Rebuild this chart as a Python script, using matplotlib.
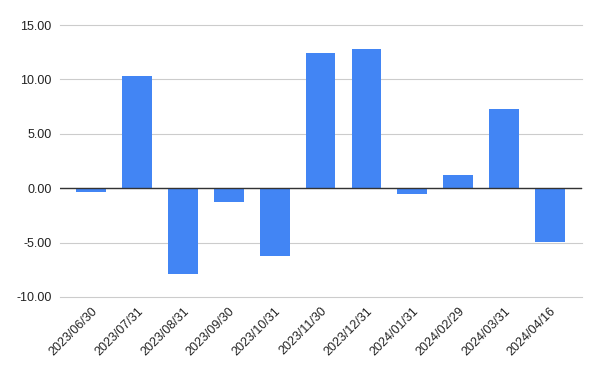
import matplotlib.pyplot as plt

dates = ["2023/06/30", "2023/07/31", "2023/08/31", "2023/09/30", "2023/10/31",
         "2023/11/30", "2023/12/31", "2024/01/31", "2024/02/29", "2024/03/31",
         "2024/04/16"]
values = [-0.35, 10.3, -7.9, -1.3, -6.2, 12.4, 12.8, -0.5, 1.2, 7.25, -4.95]
yticks = [-10, -5, 0, 5, 10, 15]

plt.rcParams["font.family"] = ["Liberation Sans", "DejaVu Sans"]

fig = plt.figure(figsize=(6, 3.71), dpi=100)
ax = fig.add_axes([0.1, 0.1995, 0.87, 0.733])

x = range(len(dates))
ax.bar(x, values, width=0.65, color="#4285F4", zorder=3)
ax.axhline(0, color="#333333", linewidth=1, zorder=4)

ax.set_ylim(-10, 15)
ax.set_xlim(-0.68, len(dates) - 0.3)
ax.set_yticks(yticks)
ax.set_yticklabels([f"{v:.2f}" for v in yticks])
ax.yaxis.grid(True, color="#cccccc", linewidth=0.8, zorder=0)
for gl in ax.get_ygridlines():
    gl.set_clip_on(False)

ax.set_xticks(list(x))
ax.set_xticklabels(dates, rotation=45, ha="right", rotation_mode="anchor")

for s in ax.spines.values():
    s.set_visible(False)
ax.tick_params(axis="both", length=0, labelsize=9, colors="#222222")
ax.tick_params(axis="y", pad=6)
ax.tick_params(axis="x", pad=6)

fig.savefig("out.png", dpi=100)
